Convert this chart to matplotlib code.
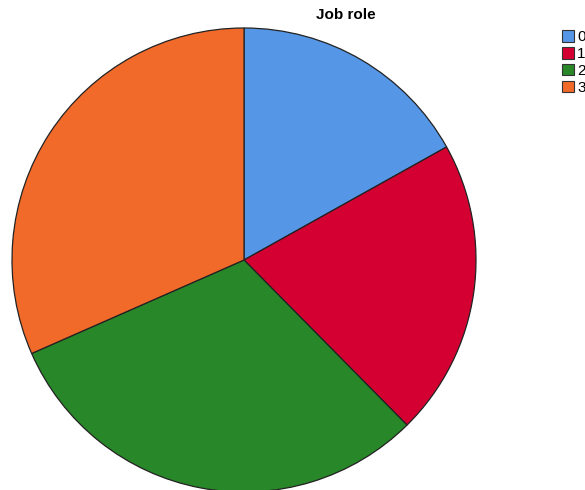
import matplotlib.pyplot as plt
from matplotlib.patches import Patch

categories = ["0", "1", "2", "3"]
shares = [16.9, 20.7, 30.8, 31.6]
colors = ["#5596E6", "#D50032", "#288729", "#F26A2A"]

W, H = 585, 490

fig = plt.figure(figsize=(W / 100, H / 100), dpi=100)
ax = fig.add_axes([0, 0, 1, 1])

ax.pie(shares, colors=colors, startangle=90, counterclock=False,
       center=(244, H - 260), radius=232, frame=True,
       wedgeprops=dict(edgecolor="#222222", linewidth=0.9))
ax.set_xlim(0, W)
ax.set_ylim(0, H)
ax.set_aspect("equal")
ax.axis("off")

fig.text(346 / W, 1 - 15 / H, "Job role", ha="center", va="center",
         fontsize=11, fontweight="bold", family="Liberation Sans")

handles = [Patch(facecolor=c, edgecolor="#333333", linewidth=0.8) for c in colors]
fig.legend(handles, categories, loc="upper left",
           bbox_to_anchor=(562 / W, 1 - 30 / H), frameon=False,
           handlelength=0.8, handleheight=0.8, handletextpad=0.2,
           labelspacing=0.18, borderaxespad=0, borderpad=0,
           prop=dict(family="Liberation Sans", size=11))

fig.savefig("out.png", dpi=100)
